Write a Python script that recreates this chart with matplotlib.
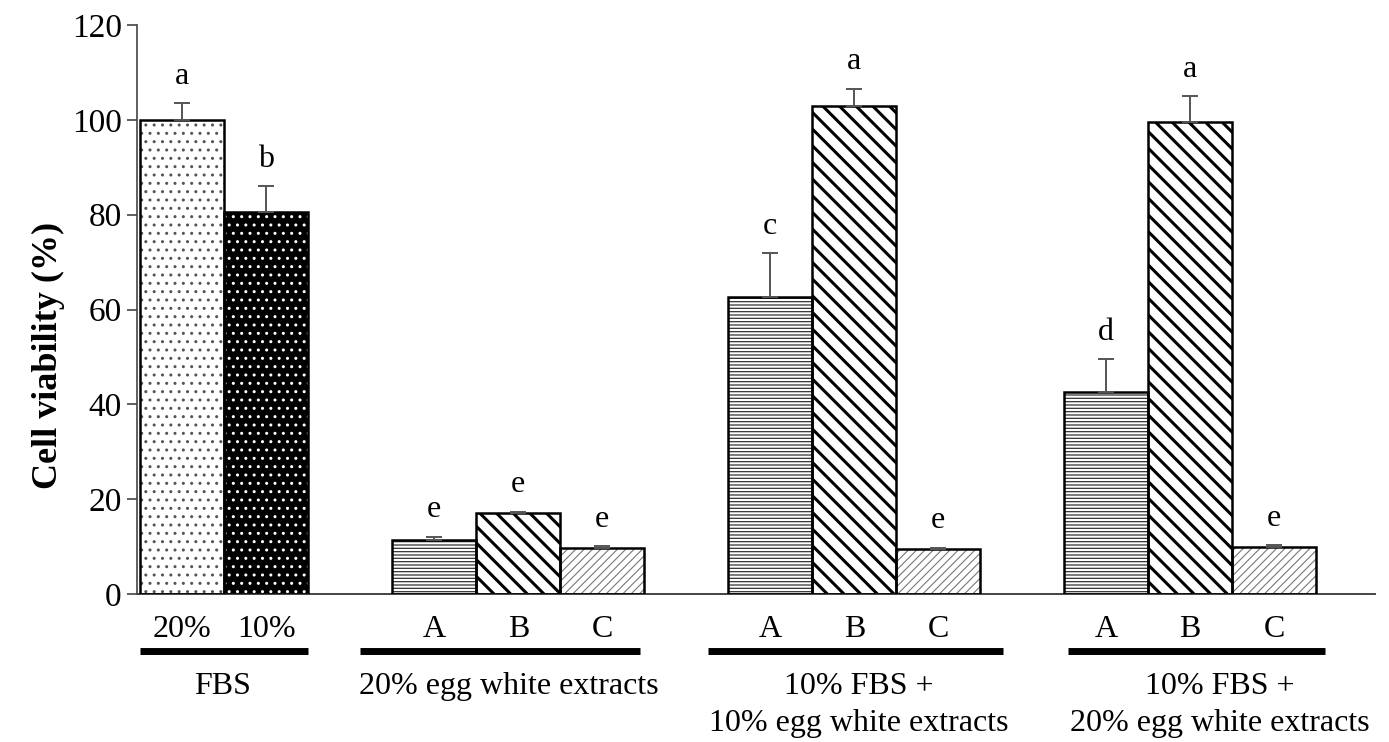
import matplotlib
matplotlib.use("Agg")
import matplotlib.pyplot as plt
import numpy as np

plt.rcParams['font.family'] = ['Liberation Serif', 'DejaVu Serif']

# --- data ---
group_names = ["FBS", "20% egg white extracts",
               "10% FBS +\n10% egg white extracts",
               "10% FBS +\n20% egg white extracts"]
bar_labels = [["20%", "10%"], ["A", "B", "C"], ["A", "B", "C"], ["A", "B", "C"]]
values = [[100.0, 80.5], [11.3, 17.0, 9.8], [62.7, 103.0, 9.5], [42.5, 99.5, 10.0]]
errors = [[3.5, 5.5], [0.8, 0.3, 0.3], [9.2, 3.6, 0.3], [7.0, 5.5, 0.3]]
letters = [["a", "b"], ["e", "e", "e"], ["c", "a", "e"], ["d", "a", "e"]]

# bar styles: (face, hatch, hatch color, hatch lw)
style_fbs = [("white", "..", "#555555", 1.0), ("black", "..", "white", 1.0)]
style_abc = [("white", "-----", "#333333", 0.9),
             ("white", "\\\\", "black", 2.2),
             ("white", "////", "#777777", 0.8)]

# --- positions: one slot per bar, one empty slot between groups ---
positions = []
x = 0
for g in bar_labels:
    positions.append(list(range(x, x + len(g))))
    x += len(g) + 1

fig = plt.figure(figsize=(13.89, 7.42), dpi=100)
ax = fig.add_axes([137 / 1389, 148 / 742, 1 - 137 / 1389 - 14 / 1389, 569 / 742])

for gi, (pos, vals, errs, lets) in enumerate(zip(positions, values, errors, letters)):
    styles = style_fbs if gi == 0 else style_abc
    for p, v, e, l, (fc, h, hc, hlw) in zip(pos, vals, errs, lets, styles):
        b = ax.bar(p, v, width=1.0, color=fc, edgecolor=hc, hatch=h, linewidth=0, zorder=2)
        for patch in b:
            try:
                patch.set_hatch_linewidth(hlw)
            except AttributeError:
                pass
        ax.bar(p, v, width=1.0, fill=False, edgecolor="black", linewidth=1.8, zorder=3)
        ax.errorbar(p, v, yerr=[[0], [e]], fmt="none", ecolor="#555555",
                    elinewidth=1.4, capsize=6, capthick=1.4, zorder=4)
        ax.annotate(l, (p, v + e), xytext=(0, 9), textcoords="offset points",
                    ha="center", va="bottom", fontsize=23)

ax.set_ylim(0, 120)
ax.set_yticks(np.arange(0, 121, 20))
ax.set_xlim(-0.54, 14.2)
ax.set_xticks([])
ax.tick_params(axis="y", labelsize=24, length=7, width=1.2, color="#444444", pad=4)
for s in ["top", "right"]:
    ax.spines[s].set_visible(False)
ax.spines["left"].set_color("#444444")
ax.spines["left"].set_linewidth(1.2)
ax.spines["bottom"].set_color("#444444")
ax.spines["bottom"].set_linewidth(1.4)
ax.set_ylabel("Cell viability (%)", fontsize=26, fontweight="bold")
ax.yaxis.set_label_coords(-0.058, 0.42)

# --- category annotations below the axis ---
trans = ax.get_xaxis_transform()
for pos, labs in zip(positions, bar_labels):
    for p, t in zip(pos, labs):
        ax.text(p, -0.063, t, transform=trans, ha="center", va="center", fontsize=23, clip_on=False)

line_spans = [(-0.5, 1.5), (2.12, 5.45), (6.26, 9.77), (10.55, 13.6)]
for (x0, x1) in line_spans:
    ax.plot([x0, x1], [-0.10, -0.10], transform=trans, color="black", lw=5,
            solid_capstyle="butt", clip_on=False)

name_x = [0.48, 3.89, 8.05, 12.35]
for nx, name in zip(name_x, group_names):
    ax.text(nx, -0.137, name, transform=trans, ha="center", va="top", fontsize=23,
            linespacing=1.35, clip_on=False, multialignment="center")

fig.savefig("out.png", dpi=100)
